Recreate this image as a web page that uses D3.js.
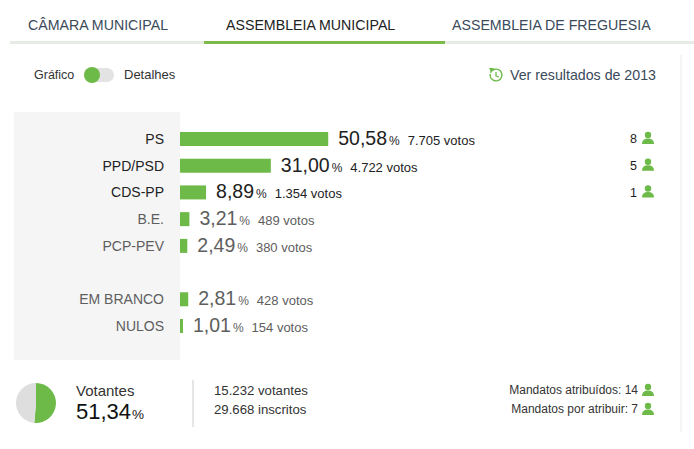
<!DOCTYPE html>
<meta charset="utf-8">
<script src="https://d3js.org/d3.v7.min.js"></script>
<style>
  body { margin: 0; background: #fff; }
  text { font-family: "Liberation Sans", Arial, sans-serif; }
</style>
<div id="chart"></div>
<script>

// data
var tabs = ["CÂMARA MUNICIPAL", "ASSEMBLEIA MUNICIPAL", "ASSEMBLEIA DE FREGUESIA"];
var parties = ["PS", "PPD/PSD", "CDS-PP", "B.E.", "PCP-PEV", "", "EM BRANCO", "NULOS"];
var percents = [50.58, 31.00, 8.89, 3.21, 2.49, null, 2.81, 1.01];
var votes = ["7.705", "4.722", "1.354", "489", "380", null, "428", "154"];
var mandates = [8, 5, 1, null, null, null, null, null];
var turnout = 51.34;
var voters = "15.232";
var registered = "29.668";
var assigned = 14, unassigned = 7;

var green = "#6dba48", dark = "#222", grey = "#5e5e5e";

var svg = d3.select("#chart").append("svg")
    .attr("width", 694).attr("height", 449);

// tabs
var tabX = [28, 226, 452];
svg.selectAll(".tab").data(tabs).enter().append("text")
    .attr("x", function(d, i) { return tabX[i]; })
    .attr("y", 30)
    .style("font-size", "14.2px")
    .style("fill", function(d, i) { return i == 1 ? "#222" : "#3a4a5a"; })
    .text(function(d) { return d; });
svg.append("rect").attr("x", 10).attr("y", 41).attr("width", 684).attr("height", 3).style("fill", "#e6ebe6");
svg.append("rect").attr("x", 204).attr("y", 41).attr("width", 241).attr("height", 3).style("fill", "#7cbb4a");

// toggle row
svg.append("text").attr("x", 34).attr("y", 79).text("Gráfico").style("font-size", "12.5px").style("fill", "#333");
svg.append("rect").attr("x", 84).attr("y", 68).attr("width", 30).attr("height", 14).attr("rx", 7).style("fill", "#e3e3e3");
svg.append("circle").attr("cx", 92).attr("cy", 75).attr("r", 8).style("fill", green);
svg.append("text").attr("x", 124).attr("y", 79).text("Detalhes").style("font-size", "13px").style("fill", "#333");

// "ver resultados" icon + link
var arc = d3.arc().innerRadius(5.2).outerRadius(6.6).startAngle(-1.2).endAngle(4.9);
svg.append("path").attr("d", arc()).attr("transform", "translate(496,75)").style("fill", green);
svg.append("path").attr("d", "M489,68 l5,0 l-3,4 z").style("fill", green);
svg.append("path").attr("d", "M496,72 L496,76 L499,77").style("stroke", green).style("fill", "none").style("stroke-width", 1.3);
svg.append("text").attr("x", 510).attr("y", 80).text("Ver resultados de 2013").style("font-size", "14.2px").style("fill", "#3a4a5a");

// right divider
svg.append("line").attr("x1", 681).attr("x2", 681).attr("y1", 55).attr("y2", 432).style("stroke", "#eaeaea");

// label panel
svg.append("rect").attr("x", 14).attr("y", 112).attr("width", 166).attr("height", 248).style("fill", "#f5f5f5");

var x = d3.scaleLinear().domain([0, 100]).range([180, 473]);
var y = d3.scalePoint().domain(d3.range(parties.length)).range([139, 326]);

var rows = parties.map(function(p, i) {
  return {name: p, pct: percents[i], votes: votes[i], mand: mandates[i], i: i};
}).filter(function(d) { return d.pct != null; });

var row = svg.selectAll(".row").data(rows).enter().append("g")
    .attr("transform", function(d) { return "translate(0," + y(d.i) + ")"; });

row.append("text")
    .attr("x", 164).attr("dy", "0.35em")
    .attr("text-anchor", "end")
    .style("font-size", "14px")
    .style("fill", function(d) { return d.mand ? dark : grey; })
    .text(function(d) { return d.name; });

row.append("rect")
    .attr("x", x(0)).attr("y", -7)
    .attr("width", function(d) { return x(d.pct) - x(0); })
    .attr("height", 14)
    .style("fill", green);

var val = row.append("text")
    .attr("x", function(d) { return x(d.pct) + 10; })
    .attr("y", 6)
    .style("fill", function(d) { return d.mand ? dark : grey; });
val.append("tspan").style("font-size", "19.5px")
    .text(function(d) { return d.pct.toFixed(2).replace(".", ","); });
val.append("tspan").style("font-size", "12px").attr("dx", 2).text("%");
val.append("tspan").style("font-size", "13px").attr("dx", 8)
    .text(function(d) { return d.votes + " votos"; });

// person icon
function person(g, cx, cy) {
  g.append("circle").attr("cx", cx).attr("cy", cy - 3).attr("r", 3.2).style("fill", green);
  g.append("path")
    .attr("d", "M" + (cx - 6) + "," + (cy + 6) + " Q" + (cx - 6) + "," + (cy + 0.5) + " " + cx + "," + (cy + 0.5) +
               " Q" + (cx + 6) + "," + (cy + 0.5) + " " + (cx + 6) + "," + (cy + 6) + " Z")
    .style("fill", green);
}

var mrow = row.filter(function(d) { return d.mand; });
mrow.append("text")
    .attr("x", 637).attr("dy", "0.35em").attr("text-anchor", "end")
    .style("font-size", "12.5px").style("fill", dark)
    .text(function(d) { return d.mand; });
mrow.each(function() { person(d3.select(this), 648, -1); });

// turnout pie
var pie = d3.pie().sort(null)([turnout, 100 - turnout]);
var pieArc = d3.arc().innerRadius(0).outerRadius(20);
svg.append("g").attr("transform", "translate(36,403)")
  .selectAll("path").data(pie).enter().append("path")
    .attr("d", pieArc)
    .style("fill", function(d, i) { return i == 0 ? green : "#dedede"; });

svg.append("text").attr("x", 76).attr("y", 396).text("Votantes").style("font-size", "15px").style("fill", "#333");
var t = svg.append("text").attr("x", 76).attr("y", 419).style("fill", "#111");
t.append("tspan").style("font-size", "22px").text(turnout.toFixed(2).replace(".", ","));
t.append("tspan").style("font-size", "13.5px").attr("dx", 1).text("%");

svg.append("line").attr("x1", 193).attr("x2", 193).attr("y1", 380).attr("y2", 427).style("stroke", "#ccc");
svg.append("text").attr("x", 214).attr("y", 395).text(voters + " votantes").style("font-size", "13.2px").style("fill", "#333");
svg.append("text").attr("x", 214).attr("y", 414).text(registered + " inscritos").style("font-size", "13.2px").style("fill", "#333");

svg.append("text").attr("x", 638).attr("y", 394).attr("text-anchor", "end")
    .text("Mandatos atribuídos: " + assigned).style("font-size", "12px").style("fill", "#333");
svg.append("text").attr("x", 638).attr("y", 413).attr("text-anchor", "end")
    .text("Mandatos por atribuir: " + unassigned).style("font-size", "12px").style("fill", "#333");
person(svg, 648, 390);
person(svg, 648, 409);

</script>
